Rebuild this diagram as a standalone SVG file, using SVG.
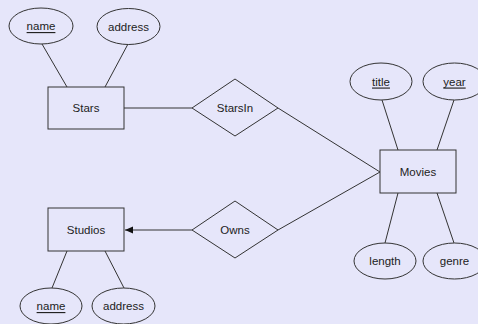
<svg xmlns="http://www.w3.org/2000/svg" width="478" height="324" viewBox="0 0 478 324">
  <style>
    .shape { fill: none; stroke: #333; stroke-width: 1; }
    .link { stroke: #333; stroke-width: 1; fill: none; }
    .label { font-family: "Liberation Sans", Arial, sans-serif; font-size: 11.5px; fill: #222; text-anchor: middle; dominant-baseline: central; }
    .key { text-decoration: underline; }
  </style>
  <defs>
    <marker id="arrow" viewBox="0 0 8 8" refX="8" refY="4" markerWidth="8" markerHeight="8" orient="auto" markerUnits="userSpaceOnUse">
      <path d="M8,4 L0,0.5 L0,7.5 Z" fill="#111"/>
    </marker>
  </defs>
  <rect width="478" height="324" fill="#e6e6fa"/>

  <g id="connectors">
    <line class="link" x1="42" y1="44" x2="67" y2="87"/>
    <line class="link" x1="128" y1="44" x2="105" y2="87"/>
    <line class="link" x1="124" y1="108" x2="192" y2="108"/>
    <line class="link" x1="278" y1="108" x2="380" y2="172"/>
    <line class="link" x1="278" y1="230" x2="380" y2="172"/>
    <line class="link" x1="192" y1="230" x2="125" y2="230" marker-end="url(#arrow)"/>
    <line class="link" x1="67" y1="251" x2="52" y2="288"/>
    <line class="link" x1="105" y1="251" x2="124" y2="288"/>
    <line class="link" x1="382" y1="100" x2="398" y2="150"/>
    <line class="link" x1="454" y1="100" x2="437" y2="150"/>
    <line class="link" x1="398" y1="193" x2="385" y2="243"/>
    <line class="link" x1="437" y1="193" x2="454" y2="243"/>
  </g>

  <g id="stars">
    <rect class="shape" x="48" y="87" width="76" height="42"/>
    <text class="label" x="86" y="108">Stars</text>
  </g>
  <g id="stars-name">
    <ellipse class="shape" cx="41" cy="26" rx="32" ry="18"/>
    <text class="label key" x="41" y="26">name</text>
  </g>
  <g id="stars-address">
    <ellipse class="shape" cx="128.5" cy="26.5" rx="31.5" ry="18"/>
    <text class="label" x="128.5" y="26.5">address</text>
  </g>

  <g id="starsin">
    <polygon class="shape" points="192,108 235,79 278,108 235,136"/>
    <text class="label" x="235" y="108">StarsIn</text>
  </g>

  <g id="owns">
    <polygon class="shape" points="192,230 235,201 278,230 235,258"/>
    <text class="label" x="235" y="230">Owns</text>
  </g>

  <g id="movies">
    <rect class="shape" x="380" y="150" width="76" height="43"/>
    <text class="label" x="418" y="171.5">Movies</text>
  </g>
  <g id="movies-title">
    <ellipse class="shape" cx="381" cy="81.5" rx="31" ry="18.5"/>
    <text class="label key" x="381" y="81.5">title</text>
  </g>
  <g id="movies-year">
    <ellipse class="shape" cx="454.5" cy="81.5" rx="31.5" ry="18.5"/>
    <text class="label key" x="454.5" y="81.5">year</text>
  </g>
  <g id="movies-length">
    <ellipse class="shape" cx="385" cy="261" rx="31" ry="18"/>
    <text class="label" x="385" y="261">length</text>
  </g>
  <g id="movies-genre">
    <ellipse class="shape" cx="454.5" cy="261" rx="31.5" ry="18"/>
    <text class="label" x="454.5" y="261">genre</text>
  </g>

  <g id="studios">
    <rect class="shape" x="48" y="208" width="76" height="43"/>
    <text class="label" x="86" y="229.5">Studios</text>
  </g>
  <g id="studios-name">
    <ellipse class="shape" cx="51" cy="306" rx="31" ry="18"/>
    <text class="label key" x="51" y="306">name</text>
  </g>
  <g id="studios-address">
    <ellipse class="shape" cx="123.5" cy="306" rx="31.5" ry="18"/>
    <text class="label" x="123.5" y="306">address</text>
  </g>
</svg>
